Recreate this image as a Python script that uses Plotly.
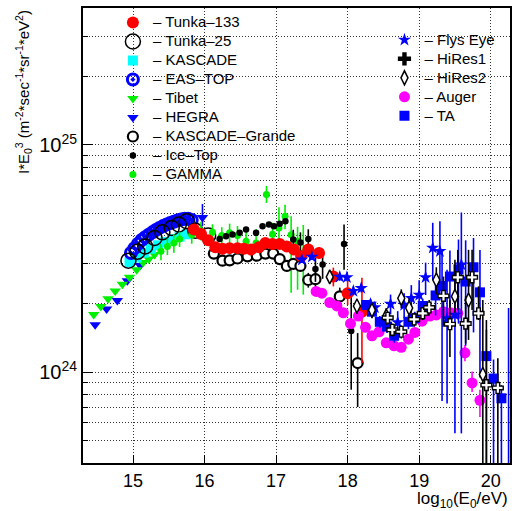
import math
import plotly.graph_objects as go

# I*E0^3 values in units of 1e24 m^-2 s^-1 sr^-1 eV^2 ; x = log10(E0/eV)
UNIT = 1e24

hegra_lgE = [14.47, 14.63, 14.78, 14.92, 15.10, 15.37, 15.54, 15.68, 15.97]
hegra_I = [1.62, 1.90, 2.07, 2.53, 2.95, 3.65, 3.84, 3.96, 4.80]
hegra_up = [0, 0, 0, 0, 0, 0, 0.15, 0.15, 0.70]
hegra_dn = [0, 0, 0, 0, 0, 0, 0.15, 0.15, 0.40]

tibet_lgE = [14.45, 14.55, 14.65, 14.75, 14.85, 14.95, 15.05, 15.14, 15.22, 15.30]
tibet_I = [1.80, 1.95, 2.11, 2.28, 2.44, 2.62, 2.83, 3.04, 3.15, 3.30]

kascade_lgE = [14.95, 15.05, 15.15, 15.25, 15.35, 15.45, 15.55, 15.65, 15.75]
kascade_I = [3.05, 3.20, 3.36, 3.50, 3.62, 3.75, 3.85, 3.95, 4.05]

eastop_lgE = [14.97, 15.02, 15.07, 15.12, 15.17, 15.22, 15.27, 15.32, 15.37,
              15.42, 15.47, 15.52, 15.57, 15.62, 15.67, 15.72, 15.77, 15.82]
eastop_I = [3.35, 3.52, 3.68, 3.82, 3.93, 4.03, 4.13, 4.23, 4.32,
            4.40, 4.47, 4.54, 4.60, 4.66, 4.70, 4.74, 4.74, 4.68]

tunka25_lgE = [14.935, 15.06, 15.17, 15.30, 15.41, 15.54, 15.64, 15.75, 15.87, 16.05]
tunka25_I = [3.10, 3.39, 3.58, 3.90, 4.13, 4.32, 4.47, 4.62, 4.20, 4.00]

gamma_lgE = [15.39, 15.48, 15.57, 15.65, 15.82, 15.95, 16.11, 16.24, 16.35, 16.46,
             16.58, 16.72, 16.865, 16.95, 17.04, 17.125, 17.21, 17.30, 17.38]
gamma_I = [3.41, 3.58, 3.71, 3.86, 4.03, 4.20, 4.13, 4.00, 4.11, 4.00,
           3.77, 3.71, 6.06, 4.05, 4.32, 4.86, 4.03, 3.77, 3.35]
gamma_up = [0.25, 0.30, 0.35, 0.30, 0.40, 0.40, 0.35, 0.35, 0.40, 0.40,
            0.45, 0.55, 0.55, 0.50, 1.00, 0.60, 0.83, 0.60, 1.10]
gamma_dn = [0.30, 0.30, 0.35, 0.30, 0.35, 0.40, 0.35, 0.35, 0.40, 0.40,
            0.45, 0.50, 0.50, 0.50, 0.74, 0.60, 1.79, 1.46, 1.15]

kgrande_lgE = [16.13, 16.25, 16.35, 16.46, 16.60, 16.73, 16.85, 16.96, 17.05,
               17.15, 17.24, 17.34, 17.45, 17.55, 17.89, 18.14]
kgrande_I = [3.33, 3.10, 3.11, 3.17, 3.24, 3.26, 3.33, 3.33, 3.15,
             2.94, 3.00, 2.94, 2.55, 2.57, 2.16, 1.10]
kgrande_up = [0.05] * 12 + [0.19, 0.2, 0.2, 0.39]
kgrande_dn = [0.05] * 12 + [0.19, 0.2, 0.2, 0.395]

icetop_lgE = [16.09, 16.21, 16.30, 16.39, 16.49, 16.58, 16.72, 16.81, 16.90, 16.97,
              17.05, 17.13, 17.24, 17.34, 17.45, 17.55, 17.65, 17.95, 18.05]
icetop_I = [3.77, 3.86, 3.97, 4.04, 4.11, 4.25, 4.11, 4.39, 4.47, 4.39,
            4.50, 4.62, 3.84, 3.73, 3.86, 2.85, 2.98, 3.67, 1.52]
icetop_up = [0.08] * 12 + [0.40, 0.40, 0.40, 0.55, 0.50, 0.80, 0.72]
icetop_dn = [0.08] * 12 + [0.40, 0.40, 0.40, 0.35, 0.40, 0.84, 0.68]

tunka133_lgE = [15.85, 15.95, 16.05, 16.15, 16.25, 16.35, 16.46, 16.55, 16.65, 16.76,
                16.85, 16.95, 17.05, 17.15, 17.25, 17.35, 17.45, 17.60, 17.80, 18.00, 18.20]
tunka133_I = [4.25, 4.06, 3.81, 3.55, 3.50, 3.52, 3.52, 3.50, 3.47, 3.55,
              3.71, 3.67, 3.67, 3.58, 3.47, 3.24, 3.47, 3.35, 2.64, 2.23, 1.85]
tunka133_up = [0.08] * 16 + [0.15, 0.20, 0.25, 0.30, 0.76]
tunka133_dn = [0.08] * 16 + [0.15, 0.20, 0.25, 0.25, 0.75]

flyseye_lgE = [17.36, 17.50, 17.89, 17.99, 18.08, 18.19, 18.32, 18.38, 18.60, 18.70,
               18.79, 18.89, 19.00, 19.09, 19.19, 19.29, 19.39, 19.50, 19.59]
flyseye_I = [3.13, 3.22, 2.63, 2.62, 2.28, 2.35, 2.00, 1.93, 2.00, 1.66,
             1.98, 2.12, 2.19, 2.62, 3.53, 3.41, 1.73, 1.79, 2.98]
flyseye_up = [0.1] * 8 + [0.2, 0.2, 0.25, 0.3, 0.35, 0.42, 1.02, 1.21, 1.10, 1.13, 2.07]
flyseye_dn = [0.1] * 8 + [0.2, 0.2, 0.25, 0.3, 0.30, 0.43, 0.98, 1.02, 1.00, 1.25, 2.44]

hires1_lgE = [18.56, 18.625, 18.75, 18.93, 19.05, 19.14, 19.34, 19.43, 19.54, 19.65,
              19.74, 19.83, 19.94, 20.10]
hires1_I = [1.74, 1.54, 1.51, 1.71, 1.82, 1.93, 2.17, 1.63, 2.62, 1.64,
            2.62, 1.82, 0.88, 0.855]
hires1_up = [0.10, 0.10, 0.10, 0.12, 0.12, 0.15, 0.47, 0.46, 0.84, 0.52, 0.84, 0.57, 0.82, 0.30]
hires1_dn = [0.10, 0.10, 0.10, 0.12, 0.12, 0.15, 0.58, 0.46, 0.74, 0.30, 0.74, 0.12, 0.58, 0.555]

hires2_lgE = [17.75, 18.13, 18.34, 18.54, 18.75, 18.86, 19.24, 19.50, 19.69, 19.89]
hires2_I = [2.63, 1.96, 1.88, 1.77, 2.12, 1.92, 2.55, 2.16, 2.08, 0.98]
hires2_up = [0.15, 0.15, 0.15, 0.15, 0.20, 0.20, 0.35, 0.97, 1.38, 1.10]
hires2_dn = [0.15, 0.15, 0.15, 0.15, 0.20, 0.20, 0.35, 0.33, 0.69, 0.68]

auger_lgE = [17.56, 17.64, 17.75, 17.85, 17.94, 18.04, 18.15, 18.25, 18.34, 18.44,
             18.54, 18.65, 18.75, 18.85, 18.94, 19.04, 19.15, 19.24, 19.34, 19.44,
             19.54, 19.64, 19.74, 19.85]
auger_I = [2.27, 2.23, 2.03, 1.96, 1.83, 1.64, 1.77, 1.58, 1.45, 1.51,
           1.35, 1.31, 1.29, 1.40, 1.50, 1.68, 1.77, 1.79, 1.85, 1.83,
           1.82, 1.22, 0.90, 0.755]
auger_up = [0.03] * 21 + [0.10, 0.11, 0.085]
auger_dn = [0.03] * 21 + [0.10, 0.08, 0.118]

ta_lgE = [18.26, 18.34, 18.45, 18.55, 18.65, 18.85, 18.94, 19.05, 19.23, 19.32,
          19.43, 19.55, 19.65, 19.76, 19.85, 19.94, 20.04, 20.15, 20.25]
ta_I = [1.98, 1.85, 1.67, 1.59, 1.45, 1.67, 1.73, 1.96, 2.18, 2.40,
        2.64, 2.84, 2.51, 2.90, 2.25, 1.18, 0.94, 0.77, 0.35]
ta_up = [0.10, 0.10, 0.10, 0.10, 0.10, 0.12, 0.12, 0.15, 0.45, 1.00,
         0.80, 1.00, 1.30, 1.00, 1.20, 0.36, 0.20, 0.11, 1.57]
ta_dn = [0.10, 0.10, 0.10, 0.10, 0.10, 0.12, 0.12, 0.15, 0.40, 1.65,
         0.70, 1.20, 1.20, 1.40, 1.30, 0.88, 0.64, 0.47, 0.0]

y_tick_vals = [1e24, 1e25]
y_tick_text = ["10<sup>24</sup>", "10<sup>25</sup>"]
x_tick_vals = [15, 16, 17, 18, 19, 20]

FONT = "Liberation Sans, Arial, Helvetica, sans-serif"

fig = go.Figure()


def label(name):
    return '<span style="font-size:15px">\u2013 ' + name + '</span>'


def add(name, x, y, marker, legend, rank, up=None, dn=None, errcolor=None,
        showlegend=True):
    err = None
    if up is not None:
        err = dict(type="data", symmetric=False,
                   array=[u * UNIT for u in up],
                   arrayminus=[d * UNIT for d in dn],
                   color=errcolor, thickness=1.6, width=0)
    fig.add_trace(go.Scatter(
        x=x, y=[v * UNIT for v in y], mode="markers", name=label(name),
        marker=marker, error_y=err, legend=legend, legendrank=rank,
        showlegend=showlegend))


add("HEGRA", hegra_lgE, hegra_I,
    dict(symbol="triangle-down", size=10, color="#0000ff"), "legend", 6,
    hegra_up, hegra_dn, "#0000ff")
add("Tibet", tibet_lgE, tibet_I,
    dict(symbol="triangle-down", size=10, color="#00ee00"), "legend", 5)
add("KASCADE", kascade_lgE, kascade_I,
    dict(symbol="square", size=10, color="#00ffff"), "legend", 3)
add("EAS\u2013TOP", eastop_lgE, eastop_I,
    dict(symbol="circle-open-dot", size=11, color="#0000ff",
         line=dict(width=3, color="#0000ff")), "legend", 4)
add("Tunka\u201325", tunka25_lgE, tunka25_I,
    dict(symbol="circle-open", size=15, color="#000000",
         line=dict(width=1.5, color="#000000")), "legend", 2)
add("GAMMA", gamma_lgE, gamma_I,
    dict(symbol="circle", size=7, color="#00ee00"), "legend", 9,
    gamma_up, gamma_dn, "#00ee00")
add("KASCADE\u2013Grande", kgrande_lgE, kgrande_I,
    dict(symbol="circle", size=10, color="#ffffff",
         line=dict(width=2.2, color="#000000")), "legend", 7,
    kgrande_up, kgrande_dn, "#000000")
add("Ice\u2013Top", icetop_lgE, icetop_I,
    dict(symbol="circle", size=6.5, color="#000000"), "legend", 8,
    icetop_up, icetop_dn, "#000000")
add("Tunka\u2013133", tunka133_lgE, tunka133_I,
    dict(symbol="circle", size=12, color="#ff0000"), "legend", 1,
    tunka133_up, tunka133_dn, "#ff0000")
add("Auger", auger_lgE, auger_I,
    dict(symbol="circle", size=11, color="#ff00ff"), "legend2", 4,
    auger_up, auger_dn, "#ff00ff")
add("TA", ta_lgE, ta_I,
    dict(symbol="square", size=10, color="#0000ff"), "legend2", 5,
    ta_up, ta_dn, "#0000ff")
add("Flys Eye", flyseye_lgE, flyseye_I,
    dict(symbol="star", size=10, color="#0000ff"), "legend2", 1,
    flyseye_up, flyseye_dn, "#0000ff")
add("HiRes2", hires2_lgE, hires2_I,
    dict(symbol="diamond-tall", size=10, color="#ffffff",
         line=dict(width=1.5, color="#000000")), "legend2", 3,
    hires2_up, hires2_dn, "#000000")
add("HiRes1", hires1_lgE, hires1_I,
    dict(symbol="cross", size=9, color="#ffffff",
         line=dict(width=1.4, color="#000000")), "legend2", 2,
    hires1_up, hires1_dn, "#000000", showlegend=False)
# legend entry for HiRes1 (filled cross as in the key)
fig.add_trace(go.Scatter(x=[None], y=[None], mode="markers", name=label("HiRes1"),
                         marker=dict(symbol="cross", size=11, color="#000000"),
                         legend="legend2", legendrank=2))

minor_y = [m * 10.0 ** e for e in (23, 24, 25) for m in range(2, 10)]
GRID = "#333333"

fig.update_layout(
    width=514, height=511,
    margin=dict(l=83, r=2, t=8, b=48),
    paper_bgcolor="white", plot_bgcolor="white",
    font=dict(family=FONT, size=13, color="black"),
    legend=dict(x=0.07, y=1.0, xanchor="left", yanchor="top",
                bgcolor="rgba(0,0,0,0)", font=dict(size=12.3),
                itemwidth=30, tracegroupgap=0),
    legend2=dict(x=0.706, y=0.962, xanchor="left", yanchor="top",
                 bgcolor="rgba(0,0,0,0)", font=dict(size=12.3),
                 itemwidth=30, tracegroupgap=0),
    xaxis=dict(range=[14.3, 20.27], tickvals=x_tick_vals,
               ticks="inside", ticklen=8, tickwidth=1, tickcolor="black",
               showline=True, linewidth=2, linecolor="black", mirror=True,
               showgrid=True, gridcolor=GRID, gridwidth=1, griddash="1px,2px",
               zeroline=False, tickfont=dict(size=18)),
    yaxis=dict(type="log", range=[math.log10(4e23), math.log10(4e25)],
               tickvals=y_tick_vals, ticktext=y_tick_text,
               ticks="inside", ticklen=10, tickwidth=1, tickcolor="black",
               showline=True, linewidth=2, linecolor="black", mirror=True,
               showgrid=True, gridcolor=GRID, gridwidth=1, griddash="1px,2px",
               zeroline=False, tickfont=dict(size=20),
               minor=dict(tickvals=minor_y, ticks="inside", ticklen=5,
                          tickcolor="black", showgrid=True, gridcolor=GRID,
                          gridwidth=1, griddash="1px,2px")),
    annotations=[
        dict(text="log<sub>10</sub>(E<sub>0</sub>/eV)", xref="paper", yref="paper",
             x=1, y=0, xanchor="right", yanchor="top", yshift=-24,
             showarrow=False, font=dict(size=17)),
        dict(text="I*E<sub>0</sub><sup>3</sup> (m<sup>-2</sup>*sec<sup>-1</sup>*sr<sup>-1</sup>*eV<sup>2</sup>)",
             xref="paper", yref="paper", x=0, y=1, xshift=-60,
             xanchor="center", yanchor="top", textangle=-90,
             showarrow=False, font=dict(size=15)),
    ],
)

fig.write_html("out.html", config={"displayModeBar": False},
               post_script="document.body.style.margin='0px';")
